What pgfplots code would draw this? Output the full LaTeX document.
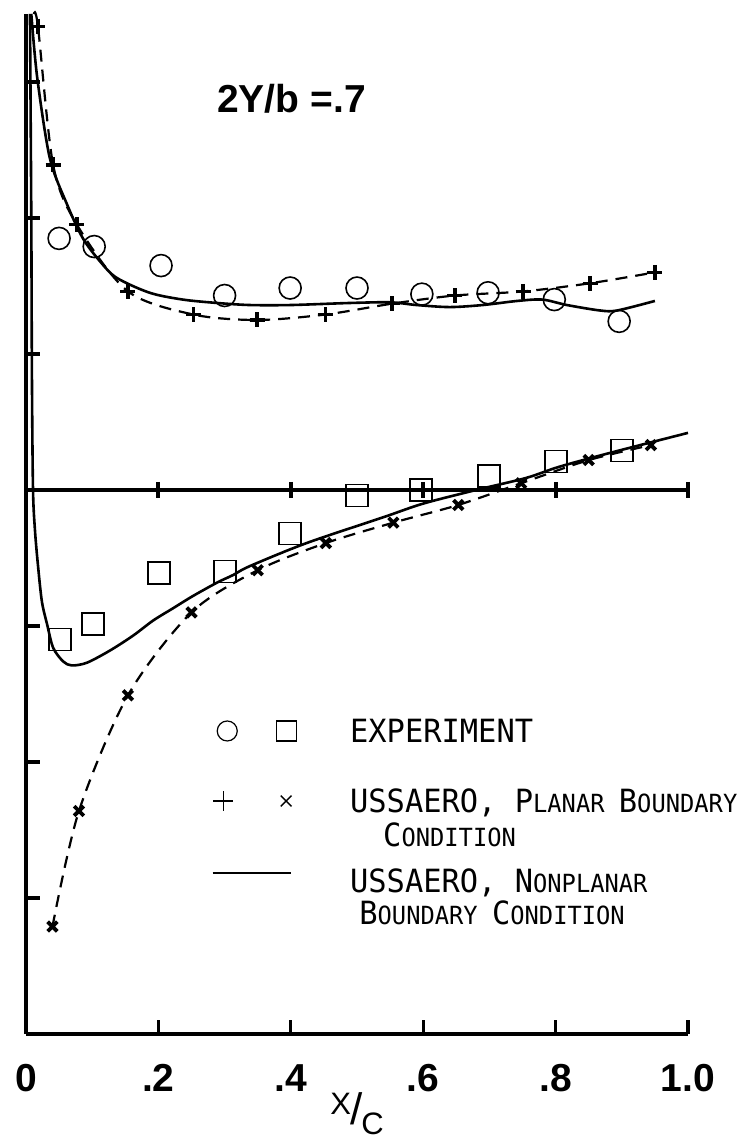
\documentclass[border=0pt]{standalone}
\usepackage{fontspec}
\setmainfont{Liberation Sans}
\newfontfamily\legfont[FakeStretch=0.95]{DejaVu Sans Mono}
\usepackage{pgfplots}
\pgfplotsset{compat=1.18}
\newcommand{\bigs}{\fontsize{16}{16}\selectfont}
\newcommand{\smls}{\fontsize{12.5}{12.5}\selectfont}
\begin{document}
\begin{tikzpicture}
\useasboundingbox (0,0) rectangle (376pt,571.5pt);
\begin{axis}[
 at={(13pt,54.5pt)}, anchor=south west,
 scale only axis, width=331pt, height=510pt,
 xmin=0, xmax=1, ymin=-4, ymax=3.5,
 axis x line=bottom, axis y line=left,
 axis line style={-, line width=1.6pt},
 xtick={0,0.2,0.4,0.6,0.8,1.0},
 xticklabels={\textbf{0},\textbf{.2},\textbf{.4},\textbf{.6},\textbf{.8},\textbf{1.0}},
 ytick={-3,-2,-1,0,1,2,3},
 yticklabels={},
 tick align=inside,
 major tick length=7pt,
 tick style={line width=1.6pt, black},
 xticklabel style={font=\fontsize{19.5}{19.5}\selectfont, anchor=center, yshift=-22pt},
 clip=false,
]
% zero line with ticks
\addplot[line width=2pt] coordinates {(0,0) (1,0)};
\addplot[only marks, mark=|, mark size=4pt, mark options={line width=2pt}] coordinates {(0.2,0)(0.4,0)(0.6,0)(0.8,0)(1,0)};

% upper surface, nonplanar (solid)
\addplot[line width=1.3pt, smooth, tension=0.5] coordinates {
(0.008,3.50) (0.017,3.03) (0.036,2.44) (0.062,2.10) (0.086,1.85) (0.112,1.68)
(0.137,1.56) (0.187,1.45) (0.237,1.40) (0.289,1.375) (0.338,1.36) (0.40,1.36)
(0.489,1.375) (0.55,1.38) (0.59,1.36) (0.64,1.345) (0.69,1.36) (0.742,1.39)
(0.78,1.40) (0.817,1.36) (0.867,1.32) (0.893,1.32) (0.95,1.39)};

% upper surface, planar (dashed)
\addplot[line width=1.1pt, dash pattern=on 6pt off 4pt, smooth, tension=0.5] coordinates {
(0.012,3.50) (0.018,3.41) (0.041,2.39) (0.077,1.95) (0.154,1.46) (0.253,1.29)
(0.349,1.25) (0.452,1.29) (0.553,1.37) (0.648,1.43) (0.751,1.46) (0.852,1.52) (0.95,1.60)};
\addplot[only marks, mark=+, mark size=3.75pt, mark options={line width=1.7pt}] coordinates {
(0.018,3.41) (0.041,2.39) (0.077,1.95) (0.154,1.46) (0.253,1.29)
(0.349,1.25) (0.452,1.29) (0.553,1.37) (0.648,1.43) (0.751,1.46) (0.852,1.52) (0.95,1.60)};

% lower surface, nonplanar (solid)
\addplot[line width=1.3pt, smooth, tension=0.5] coordinates {
(0.006,3.5) (0.008,2.0) (0.009,0.8) (0.0106,0) (0.0136,-0.30) (0.018,-0.55)
(0.024,-0.82) (0.032,-0.99) (0.041,-1.16) (0.056,-1.26) (0.069,-1.29) (0.092,-1.27)
(0.127,-1.18) (0.162,-1.07) (0.192,-0.96) (0.222,-0.87) (0.252,-0.78) (0.289,-0.68)
(0.313,-0.625) (0.338,-0.56) (0.424,-0.39) (0.54,-0.20) (0.60,-0.10) (0.68,0.0)
(0.755,0.088) (0.805,0.17) (0.88,0.27) (1.0,0.42)};

% lower surface, planar (dashed)
\addplot[line width=1.1pt, dash pattern=on 6pt off 4pt, smooth, tension=0.5] coordinates {
(0.04,-3.21) (0.08,-2.36) (0.154,-1.51) (0.25,-0.90) (0.35,-0.59) (0.453,-0.39)
(0.555,-0.24) (0.653,-0.11) (0.748,0.05) (0.85,0.22) (0.944,0.33)};
\addplot[only marks, mark=x, mark size=3.4pt, mark options={line width=1.9pt}] coordinates {
(0.04,-3.21) (0.08,-2.36) (0.154,-1.51) (0.25,-0.90) (0.35,-0.59) (0.453,-0.39)
(0.555,-0.24) (0.653,-0.11) (0.748,0.05) (0.85,0.22) (0.944,0.33)};

% experiment
\addplot[only marks, mark=o, mark size=5.5pt, mark options={line width=0.8pt}] coordinates {
(0.05,1.85) (0.103,1.79) (0.204,1.65) (0.30,1.43) (0.399,1.485) (0.50,1.485)
(0.598,1.44) (0.698,1.45) (0.798,1.40) (0.896,1.24)};
\addplot[only marks, mark=square, mark size=5.5pt, mark options={line width=0.9pt, rounded corners=1.5pt}] coordinates {
(0.051,-1.10) (0.101,-0.985) (0.201,-0.61) (0.30,-0.60) (0.399,-0.32) (0.50,-0.04)
(0.597,0.0) (0.699,0.10) (0.80,0.21) (0.90,0.29)};

% legend symbols
\addplot[only marks, mark=o, mark size=5pt, mark options={line width=0.6pt}] coordinates {(0.304,-1.772)};
\addplot[only marks, mark=square, mark size=5pt, mark options={line width=0.6pt, rounded corners=1pt}] coordinates {(0.394,-1.772)};
\addplot[only marks, mark=+, mark size=5pt, mark options={line width=0.7pt}] coordinates {(0.298,-2.287)};
\addplot[only marks, mark=x, mark size=3.8pt, mark options={line width=0.7pt}] coordinates {(0.393,-2.287)};
\addplot[line width=0.6pt] coordinates {(0.282,-2.816) (0.400,-2.816)};

% legend text
\node[anchor=base west, inner sep=0pt, yshift=-5.8pt, font=\legfont\bigs] at (axis cs:0.489,-1.772) {EXPERIMENT};
\node[anchor=base west, inner sep=0pt, yshift=-5.8pt, font=\legfont] at (axis cs:0.489,-2.287) {\bigs USSAERO, P\smls LANAR \bigs B\smls OUNDARY};
\node[anchor=base west, inner sep=0pt, yshift=-5.8pt, font=\legfont] at (axis cs:0.539,-2.537) {\bigs C\smls ONDITION};
\node[anchor=base west, inner sep=0pt, yshift=-5.8pt, font=\legfont] at (axis cs:0.489,-2.875) {\bigs USSAERO, N\smls ONPLANAR};
\node[anchor=base west, inner sep=0pt, yshift=-5.8pt, font=\legfont] at (axis cs:0.503,-3.110) {\bigs B\smls OUNDARY \bigs C\smls ONDITION};

% title and x label
\node[font=\fontsize{19.5}{19.5}\selectfont\bfseries] at (axis cs:0.401,2.875) {2Y/b =.7};
\node[font=\fontsize{15.5}{15.5}\selectfont] at (axis cs:0.5,-4.588) {\raisebox{5pt}{X}\kern-0.5pt{\fontsize{22}{22}\selectfont/}\kern-0.5pt\raisebox{-5pt}{C}};
\end{axis}
\end{tikzpicture}
\end{document}
